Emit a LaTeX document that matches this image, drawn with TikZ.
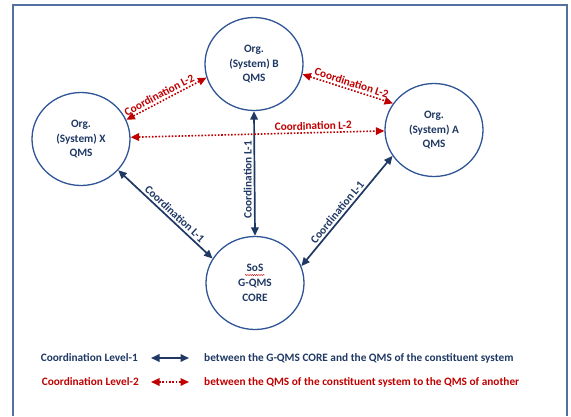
\documentclass[tikz,border=0pt]{standalone}
\usepackage{fontspec}
\setmainfont{Carlito}
\usetikzlibrary{arrows.meta,shapes.geometric,decorations.pathmorphing}
\definecolor{navy}{HTML}{1F3864}
\definecolor{ringblue}{HTML}{2F5597}
\definecolor{darkred}{HTML}{C00000}
\definecolor{framec}{HTML}{5470A0}
\begin{document}
\begin{tikzpicture}[x=1pt,y=-1pt,
  txt/.style={font=\bfseries\fontsize{11.3}{14.8}\selectfont},
  qms/.style={ellipse, draw=ringblue, line width=1.3pt, minimum width=98pt,
    minimum height=93pt, inner sep=0pt, text=navy, align=center, txt},
  lvone/.style={navy, line width=1.7pt, {Triangle[length=8.5pt,width=7.5pt]}-{Triangle[length=8.5pt,width=7.5pt]}},
  lvtwo/.style={darkred, line width=1.6pt, dash pattern=on 1.6pt off 1.7pt,
    {Triangle[length=8.5pt,width=7.5pt]}-{Triangle[length=8.5pt,width=7.5pt]}},
  lbl/.style={txt, sloped, above, inner sep=2pt}]
\useasboundingbox (0,0) rectangle (571,416);
% outer frame (open at the bottom edge)
\draw[framec, line width=1.2pt] (13,416) -- (13,5) -- (567,5) -- (567,416);

% quality management systems
\node[qms] (B) at (254,64) {Org.\\(System) B\\QMS};
\node[qms] (X) at (81,139) {Org.\\(System) X\\QMS};
\node[qms] (A) at (434,130) {Org.\\(System) A\\QMS};
\node[qms] (SoS) at (255,283) {SoS\\G-QMS\\CORE};
\draw[darkred, line width=0.4pt, decorate,
  decoration={snake, amplitude=0.6pt, segment length=2.2pt}]
  ([shift={(-10,-8)}]SoS.center) -- ([shift={(10,-8)}]SoS.center);

% level-1 coordination with the core
\draw[lvone] (X.-40) -- node[lbl, pos=0.55]{Coordination L-1} (SoS.150);
\draw[lvone] (SoS.20) -- node[lbl, pos=0.45]{Coordination L-1} (A.212);
\draw[lvone] (B.south) -- node[txt, rotate=90, above, inner sep=2pt, pos=0.55]{Coordination L-1} (SoS.north);

% level-2 coordination between systems
\draw[lvtwo] (X.23) -- node[lbl, pos=0.45]{Coordination L-2} (B.196);
\draw[lvtwo] (B.-12) -- node[lbl, pos=0.52]{Coordination L-2} (A.147);
\draw[lvtwo] (X.2) -- node[lbl, pos=0.72]{Coordination L-2} (A.181);

% legend
\node[txt, navy, anchor=east, inner sep=0pt] (lg1) at (138,358) {Coordination Level-1};
\node[txt, darkred, anchor=east, inner sep=0pt] (lg2) at (139,382) {Coordination Level-2};
\coordinate (l1a) at (151,358);
\coordinate (l1b) at (189,358);
\coordinate (l2a) at (151,382);
\coordinate (l2b) at (189,382);
\draw[lvone] (l1a) -- (l1b);
\draw[lvtwo] (l2a) -- (l2b);
\node[txt, navy, anchor=west, inner sep=0pt] (d1) at (204,358)
  {between the G-QMS CORE and the QMS of the constituent system};
\node[txt, darkred, anchor=west, inner sep=0pt] (d2) at (204,382)
  {between the QMS of the constituent system to the QMS of another};
\end{tikzpicture}
\end{document}
